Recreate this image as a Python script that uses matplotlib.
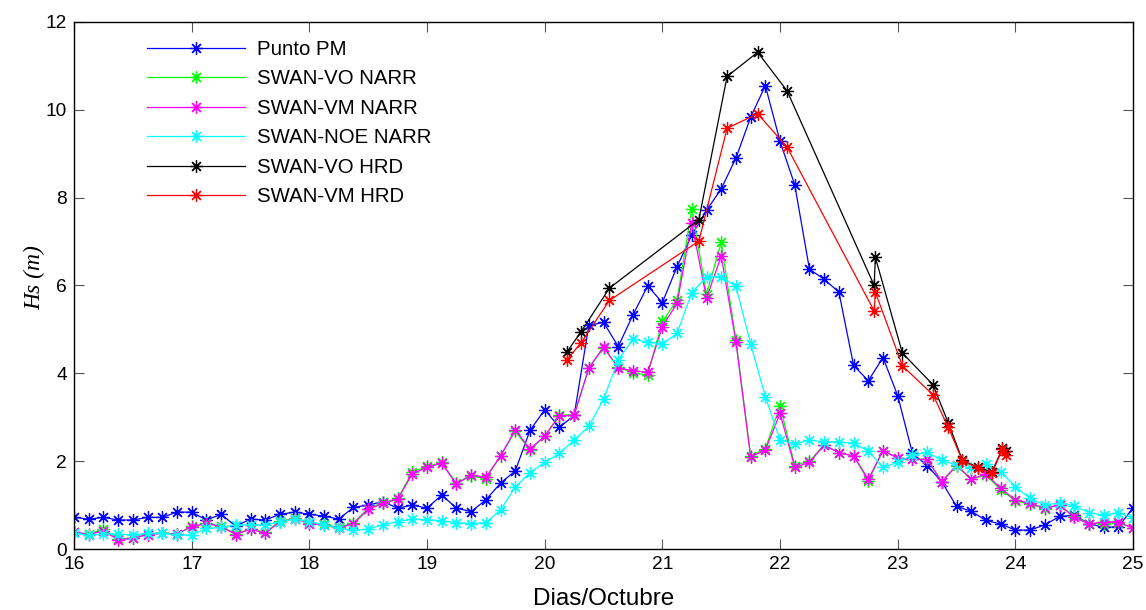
import numpy as np
import matplotlib
matplotlib.use("Agg")
import matplotlib.pyplot as plt

# ----------------- data -----------------
# NARR-driven series and buoy: one value every 3 h, 16.0 -> 25.0
T_START = 16.0
T_STEP = 0.125

punto_pm = [0.72, 0.68, 0.72, 0.66, 0.66, 0.72, 0.72, 0.84,
            0.84, 0.66, 0.79, 0.52, 0.68, 0.66, 0.79, 0.84,
            0.79, 0.75, 0.68, 0.95, 1.00, 1.08, 0.93, 1.00,
            0.93, 1.23, 0.93, 0.85, 1.12, 1.50, 1.78, 2.70,
            3.17, 2.77, 3.04, 5.09, 5.16, 4.61, 5.33, 5.99,
            5.61, 6.43, 7.15, 7.71, 8.20, 8.90, 9.83, 10.55,
            9.28, 8.29, 6.37, 6.14, 5.85, 4.18, 3.83, 4.36,
            3.49, 2.18, 1.90, 1.53, 0.97, 0.86, 0.65, 0.57,
            0.43, 0.43, 0.55, 0.74, 0.77, 0.58, 0.49, 0.51,
            0.93]

vo_narr = [0.39, 0.34, 0.45, 0.23, 0.25, 0.34, 0.37, 0.34,
           0.52, 0.59, 0.52, 0.34, 0.46, 0.38, 0.63, 0.70,
           0.60, 0.56, 0.49, 0.60, 0.92, 1.06, 1.15, 1.75,
           1.88, 1.97, 1.50, 1.66, 1.60, 2.12, 2.68, 2.25,
           2.57, 3.05, 3.05, 4.12, 4.58, 4.15, 4.00, 3.97,
           5.18, 5.67, 7.74, 5.80, 6.98, 4.75, 2.12, 2.28,
           3.26, 1.90, 2.00, 2.37, 2.19, 2.12, 1.55, 2.24,
           2.07, 2.04, 2.04, 1.53, 1.89, 1.59, 1.68, 1.35,
           1.10, 1.02, 0.92, 1.00, 0.74, 0.58, 0.58, 0.60,
           0.48]

vm_narr = [0.38, 0.33, 0.41, 0.21, 0.24, 0.33, 0.36, 0.34,
           0.51, 0.58, 0.51, 0.33, 0.45, 0.36, 0.62, 0.69,
           0.58, 0.55, 0.47, 0.58, 0.90, 1.04, 1.13, 1.71,
           1.86, 1.95, 1.48, 1.69, 1.63, 2.12, 2.71, 2.28,
           2.57, 3.03, 3.04, 4.12, 4.60, 4.12, 4.06, 4.02,
           5.06, 5.60, 7.42, 5.71, 6.67, 4.72, 2.10, 2.25,
           3.09, 1.86, 1.97, 2.37, 2.19, 2.12, 1.59, 2.24,
           2.07, 2.04, 2.04, 1.53, 1.91, 1.59, 1.71, 1.38,
           1.12, 1.04, 0.93, 1.00, 0.72, 0.57, 0.62, 0.62,
           0.47]

noe_narr = [0.36, 0.31, 0.34, 0.34, 0.32, 0.36, 0.36, 0.32,
            0.32, 0.47, 0.49, 0.55, 0.55, 0.55, 0.62, 0.68,
            0.62, 0.55, 0.47, 0.43, 0.45, 0.55, 0.62, 0.68,
            0.67, 0.64, 0.60, 0.58, 0.60, 0.89, 1.41, 1.74,
            1.97, 2.18, 2.48, 2.79, 3.41, 4.30, 4.78, 4.71,
            4.67, 4.91, 5.84, 6.20, 6.20, 5.98, 4.67, 3.47,
            2.48, 2.39, 2.48, 2.44, 2.44, 2.41, 2.23, 1.86,
            1.97, 2.14, 2.20, 2.02, 1.91, 1.84, 1.94, 1.76,
            1.42, 1.15, 1.00, 1.05, 0.98, 0.83, 0.77, 0.83,
            0.70]

# HRD-driven runs: irregular output times
hrd_t = [20.19, 20.31, 20.55, 21.31, 21.55, 21.81, 22.06, 22.80, 22.81,
         23.04, 23.30, 23.43, 23.55, 23.68, 23.80, 23.89, 23.92]
vo_hrd = [4.49, 4.95, 5.94, 7.50, 10.76, 11.31, 10.43, 6.00, 6.64,
          4.46, 3.74, 2.87, 2.02, 1.86, 1.75, 2.29, 2.24]
vm_hrd = [4.31, 4.70, 5.66, 7.01, 9.58, 9.91, 9.15, 5.42, 5.85,
          4.17, 3.51, 2.77, 2.01, 1.84, 1.72, 2.27, 2.15]

labels = ["Punto PM", "SWAN-VO NARR", "SWAN-VM NARR", "SWAN-NOE NARR",
          "SWAN-VO HRD", "SWAN-VM HRD"]
colors = ["#0000ff", "#00ff00", "#ff00ff", "#00ffff", "#000000", "#ff0000"]

XTICKS = list(range(16, 26))
YTICKS = list(range(0, 13, 2))

# ----------------- plot -----------------
plt.rcParams["font.family"] = ["Liberation Sans", "DejaVu Sans"]

t_narr = T_START + T_STEP * np.arange(len(punto_pm))
series = [(t_narr, punto_pm), (t_narr, vo_narr), (t_narr, vm_narr),
          (t_narr, noe_narr), (hrd_t, vo_hrd), (hrd_t, vm_hrd)]

fig = plt.figure(figsize=(11.46, 6.10), dpi=100)
ax = fig.add_axes([0.0646, 0.100, 0.9241, 0.864])

star = (8, 2, 0)   # asterisk like matlab '*'
for (tt, yy), lab, col in zip(series, labels, colors):
    ax.plot(tt, yy, "-", color=col, lw=0.9, marker=star, ms=9,
            mew=0.9, label=lab)

ax.set_xlim(16, 25)
ax.set_ylim(0, 12)
ax.set_xticks(XTICKS)
ax.set_yticks(YTICKS)
ax.tick_params(direction="in", length=7, width=0.8, top=True, right=True,
               labelsize=13.8, pad=5, color="#555555")
for sp in ax.spines.values():
    sp.set_linewidth(1.0)

ax.set_xlabel("Dias/Octubre", fontsize=17.5, labelpad=11)
ax.set_ylabel("Hs (m)", fontsize=17, family=["Liberation Serif"],
              style="italic")
ax.yaxis.set_label_coords(-0.027, 0.515)

leg = ax.legend(loc="upper left", bbox_to_anchor=(0.069, 0.966),
                frameon=False, fontsize=14.7, handlelength=4.8,
                handletextpad=0.6, labelspacing=0.515, borderpad=0,
                borderaxespad=0)

fig.savefig("out.png", dpi=100)
